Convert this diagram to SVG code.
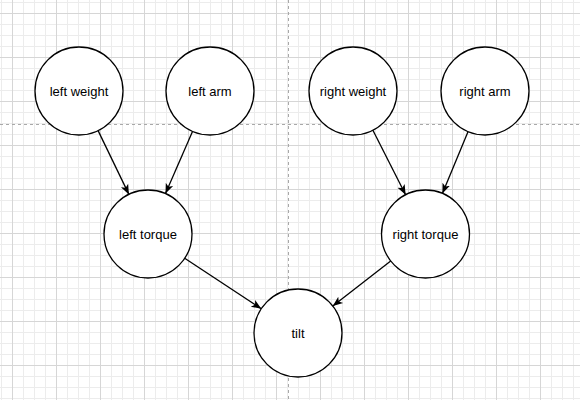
<svg xmlns="http://www.w3.org/2000/svg" width="580" height="400" viewBox="0 0 580 400">
  <defs>
    <pattern id="minor" patternUnits="userSpaceOnUse" x="1" y="2" width="11" height="11">
      <rect x="0" y="0" width="11" height="1" fill="#ececec"/>
      <rect x="0" y="0" width="1" height="11" fill="#ececec"/>
    </pattern>
    <pattern id="major" patternUnits="userSpaceOnUse" x="12" y="13" width="44" height="44">
      <rect x="0" y="0" width="44" height="1" fill="#d6d6d6"/>
      <rect x="0" y="0" width="1" height="44" fill="#d6d6d6"/>
    </pattern>
    <marker id="arrow" markerUnits="userSpaceOnUse" markerWidth="12" markerHeight="10" refX="10" refY="4" orient="auto" viewBox="0 0 12 8">
      <path d="M0,0 L10,4 L0,8 L2.5,4 Z" fill="#000"/>
    </marker>
    <style>
      .node circle { fill: #fff; stroke: #000; stroke-width: 1.3; }
      .node text { font-family: "Liberation Sans", Arial, Helvetica, sans-serif; font-size: 13px; fill: #000; text-anchor: middle; }
      .edge { stroke: #000; stroke-width: 1.3; fill: none; marker-end: url(#arrow); }
      .guide { stroke: #a8a8a8; stroke-width: 1; stroke-dasharray: 3 3; fill: none; }
    </style>
  </defs>
  <rect width="580" height="400" fill="#fff"/>
  <rect width="580" height="400" fill="url(#minor)"/>
  <rect width="580" height="400" fill="url(#major)"/>
  <line class="guide" x1="0" y1="124.5" x2="580" y2="124.5"/>
  <line class="guide" x1="288.5" y1="0" x2="288.5" y2="400"/>

  <g id="connectors">
    <line class="edge" x1="98.1" y1="130.6" x2="128.9" y2="194.4"/>
    <line class="edge" x1="192.5" y1="131.4" x2="165.5" y2="193.6"/>
    <line class="edge" x1="184.7" y1="258.2" x2="261.3" y2="308.8"/>
    <line class="edge" x1="372.9" y1="130.3" x2="405.6" y2="194.8"/>
    <line class="edge" x1="468.1" y1="131.6" x2="442.4" y2="193.4"/>
    <line class="edge" x1="390.7" y1="261" x2="332.8" y2="306"/>
  </g>

  <g id="left-weight" class="node">
    <circle cx="79" cy="91" r="44"/>
    <text x="79" y="95.5">left weight</text>
  </g>
  <g id="left-arm" class="node">
    <circle cx="210" cy="91" r="44"/>
    <text x="210" y="95.5">left arm</text>
  </g>
  <g id="right-weight" class="node">
    <circle cx="353" cy="91" r="44"/>
    <text x="353" y="95.5">right weight</text>
  </g>
  <g id="right-arm" class="node">
    <circle cx="485" cy="91" r="44"/>
    <text x="485" y="95.5">right arm</text>
  </g>
  <g id="left-torque" class="node">
    <circle cx="148" cy="234" r="44"/>
    <text x="148" y="238.5">left torque</text>
  </g>
  <g id="right-torque" class="node">
    <circle cx="425.5" cy="234" r="44"/>
    <text x="425.5" y="238.5">right torque</text>
  </g>
  <g id="tilt" class="node">
    <circle cx="298" cy="333" r="44"/>
    <text x="298" y="337.5">tilt</text>
  </g>
</svg>
